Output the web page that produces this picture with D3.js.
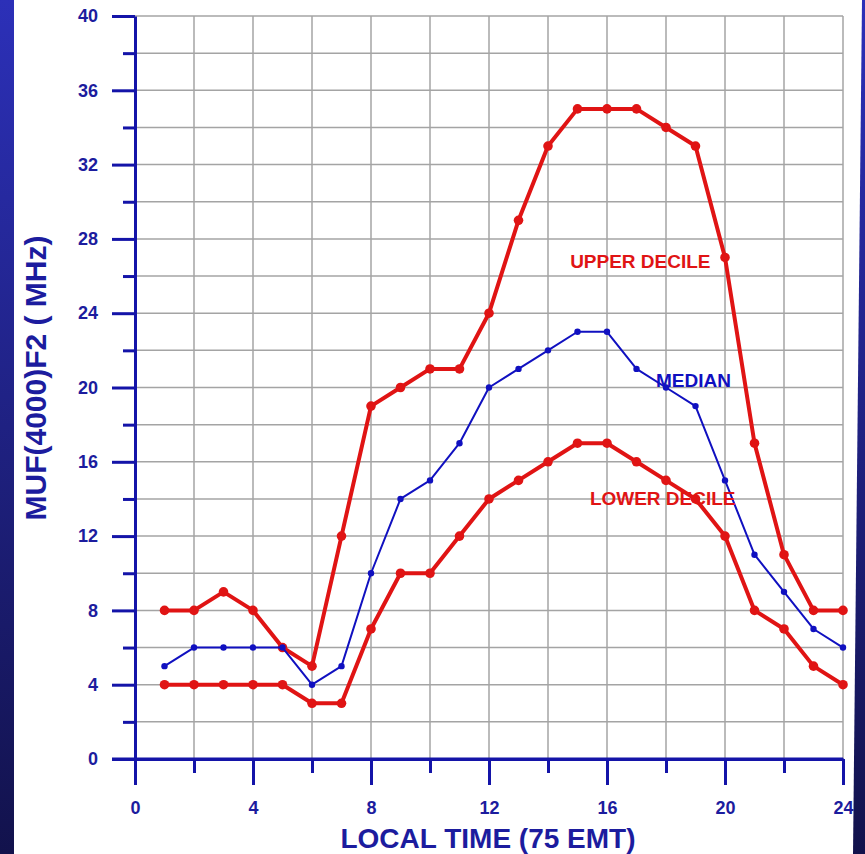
<!DOCTYPE html>
<html>
<head>
<meta charset="utf-8">
<script src="https://cdn.jsdelivr.net/npm/d3@7"></script>
<style>
  body { margin: 0; background: #1c1c80; }
  svg { display: block; }
</style>
</head>
<body>
<svg id="chart"></svg>
<script>
var width = 865; // Width of the SVG element
var height = 854; // Height of the SVG element

// Data
var hours = [1, 2, 3, 4, 5, 6, 7, 8, 9, 10, 11, 12, 13, 14, 15, 16, 17, 18, 19, 20, 21, 22, 23, 24];
var upperDecile = [8, 8, 9, 8, 6, 5, 12, 19, 20, 21, 21, 24, 29, 33, 35, 35, 35, 34, 33, 27, 17, 11, 8, 8];
var median = [5, 6, 6, 6, 6, 4, 5, 10, 14, 15, 17, 20, 21, 22, 23, 23, 21, 20, 19, 15, 11, 9, 7, 6];
var lowerDecile = [4, 4, 4, 4, 4, 3, 3, 7, 10, 10, 12, 14, 15, 16, 17, 17, 16, 15, 14, 12, 8, 7, 5, 4];
var xTickLabels = [0, 4, 8, 12, 16, 20, 24];
var yTickLabels = [0, 4, 8, 12, 16, 20, 24, 28, 32, 36, 40];

var axisColor = "#1414a8";
var textColor = "#1c1c9e";
var red = "#e01414";
var blue = "#1010c0";

var svg = d3.select("#chart")
  .attr("width", width)
  .attr("height", height);

// Background: blue gradient frame
var defs = svg.append("defs");
var grad = defs.append("linearGradient")
  .attr("id", "bg")
  .attr("x1", 0).attr("y1", 0)
  .attr("x2", 0).attr("y2", 1);
grad.append("stop").attr("offset", "0%").attr("stop-color", "#2c30b8");
grad.append("stop").attr("offset", "100%").attr("stop-color", "#12124c");

svg.append("rect")
  .attr("width", width)
  .attr("height", height)
  .attr("fill", "url(#bg)");

// White page area
svg.append("path")
  .attr("d", "M14,0 L862,0 L853," + height + " L14," + height + " Z")
  .attr("fill", "white");

// Scales
var x = d3.scaleLinear()
  .domain([0, 24])
  .range([135, 843]);

var y = d3.scaleLinear()
  .domain([0, 40])
  .range([759, 16]);

// Grid lines every 2 units
var g = svg.append("g");
g.append("g")
  .attr("class", "grid")
  .selectAll("line")
  .data(d3.range(2, 25, 2))
  .enter()
  .append("line")
  .attr("x1", function(d) { return x(d); })
  .attr("x2", function(d) { return x(d); })
  .attr("y1", y(40))
  .attr("y2", y(0));

g.append("g")
  .attr("class", "grid")
  .selectAll("line")
  .data(d3.range(2, 41, 2))
  .enter()
  .append("line")
  .attr("x1", x(0))
  .attr("x2", x(24))
  .attr("y1", function(d) { return y(d); })
  .attr("y2", function(d) { return y(d); });

svg.selectAll(".grid line")
  .style("stroke", "#a4a4a4")
  .style("stroke-width", 1.5);

// Y axis: major ticks every 4, minor every 2
svg.append("g")
  .attr("transform", "translate(" + x(0) + ",0)")
  .call(d3.axisLeft(y).tickValues(d3.range(2, 40, 4)).tickSize(12).tickFormat("").tickSizeOuter(0))
  .call(function(a) { a.select(".domain").remove(); })
  .selectAll("line")
  .attr("stroke", axisColor)
  .attr("stroke-width", 3);

var yAxis = svg.append("g")
  .attr("transform", "translate(" + x(0) + ",0)")
  .call(d3.axisLeft(y).tickValues(yTickLabels).tickSize(23).tickPadding(14).tickSizeOuter(0));

yAxis.select(".domain")
  .attr("stroke", axisColor)
  .attr("stroke-width", 3);
yAxis.selectAll("line")
  .attr("stroke", axisColor)
  .attr("stroke-width", 3);
yAxis.selectAll("text")
  .attr("fill", textColor)
  .style("font-family", "'Liberation Sans', Arial, sans-serif")
  .style("font-weight", "bold")
  .style("font-size", "18px");

// X axis
svg.append("g")
  .attr("transform", "translate(0," + y(0) + ")")
  .call(d3.axisBottom(x).tickValues(d3.range(2, 24, 4)).tickSize(14).tickFormat("").tickSizeOuter(0))
  .call(function(a) { a.select(".domain").remove(); })
  .selectAll("line")
  .attr("stroke", axisColor)
  .attr("stroke-width", 3);

var xAxis = svg.append("g")
  .attr("transform", "translate(0," + y(0) + ")")
  .call(d3.axisBottom(x).tickValues(xTickLabels).tickSize(26).tickPadding(16).tickSizeOuter(0));

xAxis.select(".domain")
  .attr("stroke", axisColor)
  .attr("stroke-width", 3);
xAxis.selectAll("line")
  .attr("stroke", axisColor)
  .attr("stroke-width", 3);
xAxis.selectAll("text")
  .attr("fill", textColor)
  .style("font-family", "'Liberation Sans', Arial, sans-serif")
  .style("font-weight", "bold")
  .style("font-size", "18px");

// extend x axis line left to the zero tick of the y axis
svg.append("line")
  .attr("x1", 112)
  .attr("x2", x(24))
  .attr("y1", y(0))
  .attr("y2", y(0))
  .attr("stroke", axisColor)
  .attr("stroke-width", 3);

// Axis titles
svg.append("text")
  .attr("x", 488)
  .attr("y", 848)
  .attr("text-anchor", "middle")
  .attr("fill", textColor)
  .style("font-family", "'Liberation Sans', Arial, sans-serif")
  .style("font-weight", "bold")
  .style("font-size", "28px")
  .text("LOCAL TIME (75 EMT)");

svg.append("text")
  .attr("transform", "translate(46,378) rotate(-90)")
  .attr("text-anchor", "middle")
  .attr("fill", textColor)
  .style("font-family", "'Liberation Sans', Arial, sans-serif")
  .style("font-weight", "bold")
  .style("font-size", "30px")
  .text("MUF(4000)F2 ( MHz)");

// Series
var series = [
  { name: "upper", values: upperDecile, color: red, width: 4, r: 4.8 },
  { name: "lower", values: lowerDecile, color: red, width: 4, r: 4.8 },
  { name: "median", values: median, color: blue, width: 2, r: 3.2 }
];

var line = d3.line()
  .x(function(d) { return x(d[0]); })
  .y(function(d) { return y(d[1]); });

series.forEach(function(s) {
  var pts = hours.map(function(h, i) { return [h, s.values[i]]; });
  svg.append("path")
    .datum(pts)
    .attr("d", line)
    .attr("fill", "none")
    .attr("stroke", s.color)
    .attr("stroke-width", s.width)
    .attr("stroke-linejoin", "round");

  svg.selectAll(".dot-" + s.name)
    .data(pts)
    .enter()
    .append("circle")
    .attr("class", "dot-" + s.name)
    .attr("cx", function(d) { return x(d[0]); })
    .attr("cy", function(d) { return y(d[1]); })
    .attr("r", s.r)
    .attr("fill", s.color);
});

// Series labels
var labels = [
  { text: "UPPER DECILE", hx: 14.75, v: 26.45, color: red },
  { text: "MEDIAN", hx: 17.66, v: 20.05, color: blue },
  { text: "LOWER DECILE", hx: 15.42, v: 13.65, color: red }
];

svg.selectAll(".series-label")
  .data(labels)
  .enter()
  .append("text")
  .attr("class", "series-label")
  .attr("x", function(d) { return x(d.hx); })
  .attr("y", function(d) { return y(d.v); })
  .attr("fill", function(d) { return d.color; })
  .style("font-family", "'Liberation Sans', Arial, sans-serif")
  .style("font-weight", "bold")
  .style("font-size", "19px")
  .text(function(d) { return d.text; });
</script>
</body>
</html>
